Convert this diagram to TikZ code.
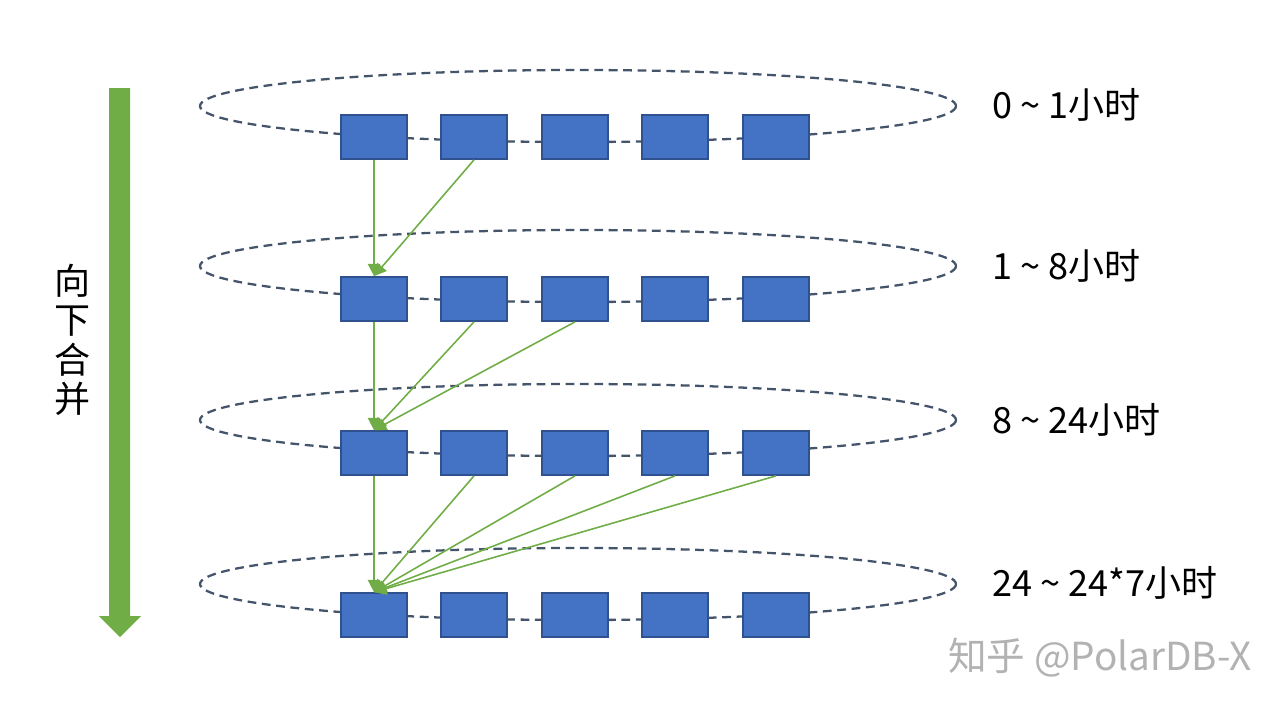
\documentclass[tikz,border=0pt]{standalone}
\usepackage{fontspec}
\setmainfont{Noto Sans CJK SC}
\usetikzlibrary{
    arrows.meta,
    calc
}
\definecolor{blockblue}{HTML}{4472C4}
\definecolor{blockedge}{HTML}{2F528F}
\definecolor{ringgray}{HTML}{44546A}
\definecolor{mergegreen}{HTML}{70AD47}
\tikzset{
  block/.style={
    draw=blockedge,
    fill=blockblue,
    line width=1pt,
    minimum width=1.32cm,
    minimum height=0.88cm,
    inner sep=0pt
  },
  ring/.style={
    draw=ringgray,
    line width=1.3pt,
    dash pattern=on 5pt off 3.2pt
  },
  merge/.style={
    draw=mergegreen,
    line width=0.9pt,
    -{Triangle[length=7pt,width=7pt]}
  },
  span/.style={
    anchor=west,
    font=\fontsize{20.5}{22}\selectfont
  }
}

\begin{document}
\begin{tikzpicture}[x=0.02cm,y=-0.02cm]
    \useasboundingbox (0,0) rectangle (1282,708);
    %-------------------------
    %左の大きな矢印
    %-------------------------
    \fill[mergegreen] (109,88) -- (130,88) -- (130,616) -- (141,616)
        -- (120,637) -- (99,616) -- (109,616) -- cycle;
    \node[align=center,font=\fontsize{20.5}{22.5}\selectfont] (down) at (73,340) {向\\下\\合\\并};

    %-------------------------
    %楕円
    %-------------------------
    \draw[ring] (578,106) ellipse [x radius=378, y radius=36];
    \draw[ring] (578,266) ellipse [x radius=378, y radius=36];
    \draw[ring] (578,420) ellipse [x radius=378, y radius=36];
    \draw[ring] (578,584) ellipse [x radius=378, y radius=36];

    %-------------------------
    %ブロック
    %-------------------------
    \node[block] (a1) at (374,137) {};
    \node[block] (a2) at (474,137) {};
    \node[block] (a3) at (575,137) {};
    \node[block] (a4) at (675,137) {};
    \node[block] (a5) at (776,137) {};

    \node[block] (b1) at (374,299) {};
    \node[block] (b2) at (474,299) {};
    \node[block] (b3) at (575,299) {};
    \node[block] (b4) at (675,299) {};
    \node[block] (b5) at (776,299) {};

    \node[block] (c1) at (374,453) {};
    \node[block] (c2) at (474,453) {};
    \node[block] (c3) at (575,453) {};
    \node[block] (c4) at (675,453) {};
    \node[block] (c5) at (776,453) {};

    \node[block] (d1) at (374,615) {};
    \node[block] (d2) at (474,615) {};
    \node[block] (d3) at (575,615) {};
    \node[block] (d4) at (675,615) {};
    \node[block] (d5) at (776,615) {};

    %-------------------------
    %合并の矢印
    %-------------------------
    \draw[merge] (a1.south) -- (b1.north);
    \draw[merge] (a2.south) -- (b1.north);

    \draw[merge] (b1.south) -- (c1.north);
    \draw[merge] (b2.south) -- (c1.north);
    \draw[merge] (b3.south) -- (c1.north);

    \draw[merge] (c1.south) -- (d1.north);
    \draw[merge] (c2.south) -- (d1.north);
    \draw[merge] (c3.south) -- (d1.north);
    \draw[merge] (c4.south) -- (d1.north);
    \draw[merge] (c5.south) -- (d1.north);

    %-------------------------
    %時間
    %-------------------------
    \node[span] (t1) at (986,105) {0 \textasciitilde{} 1小时};
    \node[span] (t2) at (986,266) {1 \textasciitilde{} 8小时};
    \node[span] (t3) at (986,420) {8 \textasciitilde{} 24小时};
    \node[span] (t4) at (986,583) {24 \textasciitilde{} 24*7小时};

    \node[anchor=west,text=black!30,font=\fontsize{22}{24}\selectfont] (mark) at (942,658) {知乎 @PolarDB-X};
\end{tikzpicture}
\end{document}
